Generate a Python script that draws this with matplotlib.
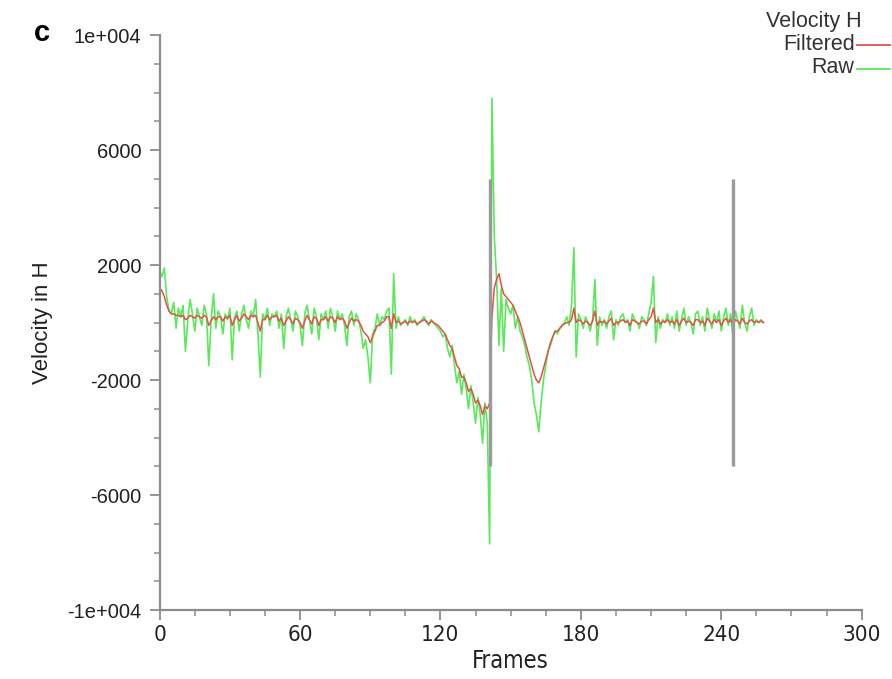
import matplotlib
matplotlib.use("Agg")
import matplotlib.pyplot as plt
from matplotlib.lines import Line2D
from matplotlib.ticker import FixedLocator, MultipleLocator

# raw horizontal velocity, one value per frame (0..258)
raw = [
    1800, 1600, 1900, 900, 400, 300, 700, -200, 500, 200,
    600, -1000, 100, 800, 300, -300, 500, 200, -100, 600,
    300, -1500, 100, 1000, -200, 400, 200, -400, 300, 100,
    500, -1300, 200, 400, -300, 300, 600, 100, -200, 400,
    200, 800, -400, -1900, 300, 100, 500, -100, 300, 200,
    400, -200, 300, -900, 200, 500, 100, -300, 400, 200,
    -100, -800, 300, 600, 100, -400, 500, 200, -600, 300,
    100, 400, -200, 500, 200, -300, 400, 100, 300, -100,
    -800, 200, 400, -100, 300, 100, -300, -900, -600, -1200,
    -2100, -400, -200, 300, -100, 200, 100, 400, 500, -1800,
    1700, -200, 200, -100, 0, 100, -100, 200, 0, 100,
    -100, 0, 100, 200, 0, -100, 100, 0, -100, -200,
    -300, -500, -400, -900, -1200, -800, -1500, -2100, -1700, -2500,
    -1800, -2300, -3000, -2200, -2800, -3500, -2600, -3200, -4200, -2800,
    -3500, -7700, 7800, 3000, 1500, -800, 1200, -1000, 800, 500,
    300, 600, -200, 200, -300, -500, -800, -1200, -1500, -2000,
    -2800, -3200, -3800, -2800, -2000, -1500, -1000, -800, -500, -300,
    -400, -200, -100, 0, 200, -100, 600, 2600, -1200, 300,
    100, -200, 200, 0, -300, 100, 1500, -800, 200, -100,
    100, -200, 200, 400, -600, 100, -100, 200, 300, 0,
    100, -300, 300, 100, 0, -200, 200, 100, -100, 300,
    700, 1600, -700, 200, -200, 100, 0, 300, -100, 200,
    -200, 400, -300, 100, 500, -100, 200, 0, -400, 300,
    400, -100, 200, -300, 500, 100, -200, 300, 0, 400,
    -300, 200, 500, -100, 300, -500, 400, 100, -200, 600,
    0, -300, 200, 500, -100, 100, 0, 100, 0,
]

filtered = [
    1200, 1100, 900, 600, 400, 300, 300, 250, 250, 200,
    250, 100, 150, 250, 200, 150, 250, 200, 150, 250,
    200, -100, 50, 200, 100, 200, 200, 50, 200, 150,
    250, -100, 100, 250, 50, 150, 300, 200, 100, 250,
    200, 250, 0, -300, 100, 100, 250, 100, 200, 200,
    250, 50, 150, -100, 50, 200, 100, -50, 150, 100,
    0, -200, 50, 250, 100, -50, 200, 150, -100, 100,
    100, 200, 50, 200, 150, 0, 200, 100, 150, 50,
    -200, 0, 150, 50, 100, 50, -100, -300, -400, -500,
    -700, -500, -300, -100, -100, 0, 50, 200, 200, -200,
    300, 0, 50, -50, 0, 50, -50, 50, 0, 50,
    -50, 0, 50, 100, 50, -50, 50, 0, -50, -100,
    -200, -300, -400, -600, -800, -900, -1200, -1500, -1600, -1900,
    -1900, -2100, -2400, -2300, -2500, -2800, -2700, -2900, -3200, -2900,
    -3000, -2800, 200, 1200, 1500, 1700, 1300, 1000, 900, 800,
    700, 600, 400, 200, 0, -300, -600, -900, -1200, -1500,
    -1800, -2000, -2100, -1900, -1600, -1300, -1000, -700, -500, -300,
    -300, -200, -100, -50, 0, 0, 100, 500, 0, 100,
    50, -50, 50, 0, -100, 50, 400, -100, 50, 0,
    50, -50, 50, 150, -100, 0, 0, 50, 100, 0,
    50, -100, 100, 50, 0, -50, 50, 50, -50, 100,
    200, 500, 0, 100, -50, 50, 0, 100, 0, 50,
    -50, 100, -100, 50, 150, 0, 50, 0, -100, 100,
    100, 0, 50, -100, 150, 50, -50, 100, 0, 100,
    -100, 50, 150, 0, 100, -100, 100, 50, -50, 150,
    0, -50, 50, 100, 0, 50, 0, 50, 0,
]

frames = list(range(len(raw)))

# event markers (frame, low, high)
markers_x = [141, 245]
marker_lo = -5000
marker_hi = 5000

y_ticks = [10000, 6000, 2000, -2000, -6000, -10000]
y_labels = ["1e+004", "6000", "2000", "-2000", "-6000", "-1e+004"]
x_ticks = [0, 60, 120, 180, 240, 300]

axis_grey = "#8c8c8c"
raw_col = "#5be85b"
filt_col = "#e0524a"
sans = ["Liberation Sans", "DejaVu Sans"]

fig = plt.figure(figsize=(8.92, 6.79), dpi=100)
ax = fig.add_axes([0.179, 0.1016, 0.787, 0.8468])

ax.plot(frames, raw, color=raw_col, lw=1.2)
ax.plot(frames, filtered, color=filt_col, lw=1.1)
ax.vlines(markers_x, marker_lo, marker_hi, color="#9a9a9a", lw=2.4)

ax.set_xlim(0, 300)
ax.set_ylim(-10000, 10000)
ax.xaxis.set_major_locator(FixedLocator(x_ticks))
ax.xaxis.set_minor_locator(MultipleLocator(15))
ax.yaxis.set_major_locator(FixedLocator(y_ticks))
ax.yaxis.set_minor_locator(MultipleLocator(1000))
ax.set_yticklabels(y_labels)

for s in ["top", "right"]:
    ax.spines[s].set_visible(False)
for s in ["left", "bottom"]:
    ax.spines[s].set_color(axis_grey)
    ax.spines[s].set_linewidth(1.6)

ax.tick_params(which="major", direction="out", length=7, width=1.3, color=axis_grey)
ax.tick_params(which="minor", direction="out", length=4, width=1.1, color=axis_grey)
ax.tick_params(axis="y", labelsize=14.5, labelcolor="#222222", pad=6)
ax.tick_params(axis="x", labelsize=16, labelcolor="#222222", pad=4)
for lab in ax.get_xticklabels():
    lab.set_family("DejaVu Sans")
    lab.set_stretch("condensed")
for lab in ax.get_yticklabels():
    lab.set_family(sans)

ax.set_xlabel("Frames", fontsize=17, color="#222222", labelpad=3,
              family="DejaVu Sans", fontstretch="condensed")
ax.set_ylabel("Velocity in H", fontsize=16, color="#222222", labelpad=10, family=sans)

fig.text(0.038, 0.952, "c", fontsize=21, fontweight="bold", ha="left", va="center",
         family=sans)

# legend in the top right corner
fig.text(0.966, 0.968, "Velocity H", ha="right", va="center", fontsize=15.5,
         color="#333333", family=sans)
fig.text(0.958, 0.934, "Filtered", ha="right", va="center", fontsize=15.5,
         color="#333333", family=sans)
fig.text(0.958, 0.900, "Raw", ha="right", va="center", fontsize=15.5,
         color="#333333", family=sans)
fig.add_artist(Line2D([0.961, 0.998], [0.933, 0.933], color=filt_col, lw=1.3))
fig.add_artist(Line2D([0.961, 0.998], [0.899, 0.899], color=raw_col, lw=1.3))

plt.savefig("out.png", dpi=100)
plt.close()
